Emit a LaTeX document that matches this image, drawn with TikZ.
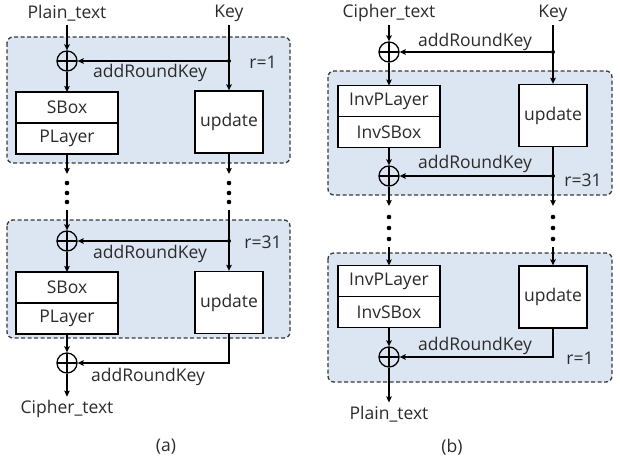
\documentclass[tikz,border=0pt]{standalone}
\usepackage{xcolor}
\usepackage{fontspec}
\setmainfont{Open Sans}
\usepackage{tikz}
\usetikzlibrary{arrows.meta, positioning}
\definecolor{roundfill}{HTML}{DCE6F2}
\definecolor{roundline}{HTML}{3A3A3A}
\definecolor{textgray}{HTML}{2B2B2B}

\begin{document}
\begin{tikzpicture}[x=1pt, y=-1pt,
    every node/.style={font=\fontsize{17.5}{20}\selectfont, text=textgray},
    round/.style={draw=roundline, fill=roundfill, dash pattern=on 4pt off 2.5pt, line width=1.3pt, rounded corners=6pt},
    layer/.style={rectangle, draw=black, fill=white, line width=1.3pt, minimum width=102pt, minimum height=31pt, inner sep=0pt, outer sep=0pt},
    upd/.style={rectangle, draw=black, fill=white, line width=1.3pt, minimum width=68pt, minimum height=62pt, inner sep=0pt},
    xor/.style={circle, draw=black, line width=1.3pt, minimum size=20pt, inner sep=0pt,
        path picture={\draw[line width=1.3pt] (path picture bounding box.north) -- (path picture bounding box.south)
            (path picture bounding box.west) -- (path picture bounding box.east);}},
    flow/.style={-{Stealth[length=6pt, width=5.5pt, inset=1pt]}, line width=1.3pt},
    junction/.style={circle, fill=black, inner sep=0pt, minimum size=4pt},
    gapdot/.style={fill=black}
]
    \useasboundingbox (0,0) rectangle (620,460);

    % Round boxes
    \draw[round] (7,37) rectangle (290,163);
    \draw[round] (7,220) rectangle (290,338);
    \draw[round] (328,71) rectangle (612,195);
    \draw[round] (328,253) rectangle (612,382);

    % Nodes (a)
    \node (plain1) at (67,13) {Plain\_text};
    \node (key1) at (229,13) {Key};
    \node[xor] (xor1) at (67,61) {};
    \node[junction] (j1) at (229,61) {};
    \node (ark1) at (150,73) {addRoundKey};
    \node (r1a) at (263,62) {r=1};
    \node[layer] (sbox1) at (67,107.5) {SBox};
    \node[layer, below=0pt of sbox1] (player1) {PLayer};
    \node[upd] (update1) at (229,122) {update};
    \coordinate (ga1) at (67,174);
    \coordinate (ga2) at (229,174);
    \coordinate (gb1) at (67,210);
    \coordinate (gb2) at (229,210);

    \node[xor] (xor2) at (67,241) {};
    \node[junction] (j2) at (229,241) {};
    \node (ark2) at (150,254) {addRoundKey};
    \node (r31a) at (263,242) {r=31};
    \node[layer] (sbox2) at (67,287.5) {SBox};
    \node[layer, below=0pt of sbox2] (player2) {PLayer};
    \node[upd] (update2) at (229,302.5) {update};
    \node[xor] (xor3) at (67,363) {};
    \node (ark3) at (148,377) {addRoundKey};
    \node (cipher1) at (67,409) {Cipher\_text};
    \node (capa) at (166,447) {(a)};

    % Nodes (b)
    \node (cipher2) at (389,13) {Cipher\_text};
    \node (key2) at (553,13) {Key};
    \node[xor] (xor4) at (389,52) {};
    \node[junction] (j3) at (553,52) {};
    \node (ark4) at (475,42) {addRoundKey};
    \node[layer] (invp1) at (389,101) {InvPLayer};
    \node[layer, below=0pt of invp1] (invs1) {InvSBox};
    \node[upd] (update3) at (553,115.5) {update};
    \node[xor] (xor5) at (389,176) {};
    \node[junction] (j4) at (553,176) {};
    \node (ark5) at (475,164) {addRoundKey};
    \node (r31b) at (583,180) {r=31};
    \coordinate (gc1) at (389,206);
    \coordinate (gc2) at (553,206);
    \coordinate (gd1) at (389,247);
    \coordinate (gd2) at (553,247);

    \node[layer] (invp2) at (389,281) {InvPLayer};
    \node[layer, below=0pt of invp2] (invs2) {InvSBox};
    \node[upd] (update4) at (553,297) {update};
    \node[xor] (xor6) at (389,357) {};
    \node (ark6) at (475,346) {addRoundKey};
    \node (r1b) at (580,358) {r=1};
    \node (plain2) at (389,414) {Plain\_text};
    \node (capb) at (452,447) {(b)};

    % Arrows (a)
    \draw[flow] (plain1) -- (xor1);
    \draw[flow] (key1) -- (update1);
    \draw[flow] (j1) -- (xor1);
    \draw[flow] (xor1) -- (sbox1);
    \draw[flow] (player1) -- (ga1);
    \draw[flow] (update1) -- (ga2);
    \draw[flow] (gb1) -- (xor2);
    \draw[flow] (gb2) -- (update2);
    \draw[flow] (j2) -- (xor2);
    \draw[flow] (xor2) -- (sbox2);
    \draw[flow] (player2) -- (xor3);
    \draw[flow] (update2) |- (xor3);
    \draw[flow] (xor3) -- (cipher1);

    % Arrows (b)
    \draw[flow] (cipher2) -- (xor4);
    \draw[flow] (key2) -- (update3);
    \draw[flow] (j3) -- (xor4);
    \draw[flow] (xor4) -- (invp1);
    \draw[flow] (invs1) -- (xor5);
    \draw[flow] (update3) -- (gc2);
    \draw[flow] (j4) -- (xor5);
    \draw[flow] (xor5) -- (gc1);
    \draw[flow] (gd1) -- (invp2);
    \draw[flow] (gd2) -- (update4);
    \draw[flow] (invs2) -- (xor6);
    \draw[flow] (update4) |- (xor6);
    \draw[flow] (xor6) -- (plain2);

    % Dots
    \foreach \y in {183,193,202} {
        \fill[gapdot] (67,\y) circle (2.3);
        \fill[gapdot] (229,\y) circle (2.3);
    }
    \foreach \y in {217,228,239} {
        \fill[gapdot] (389,\y) circle (2.3);
        \fill[gapdot] (553,\y) circle (2.3);
    }
\end{tikzpicture}
\end{document}
